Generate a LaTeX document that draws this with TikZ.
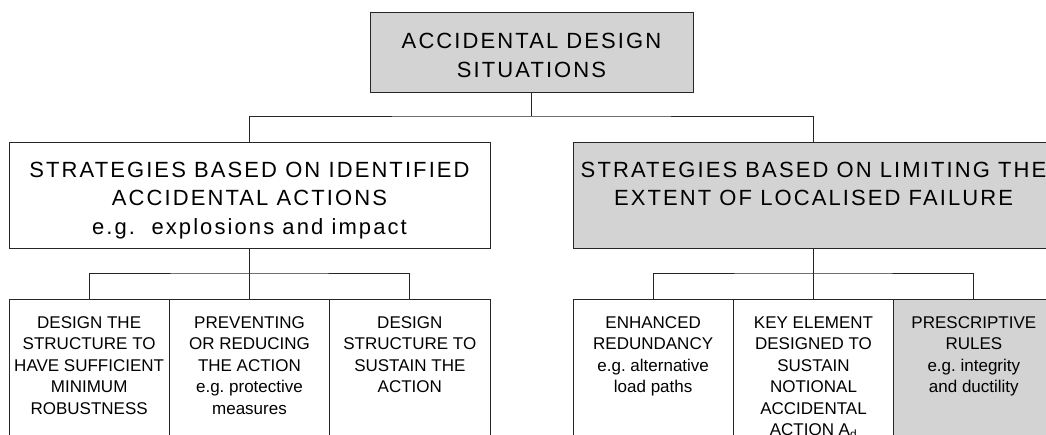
\documentclass[tikz,border=0pt]{standalone}
\usepackage{fontspec}
\setmainfont{Liberation Sans}
\newfontfamily\widefont{Liberation Sans}[LetterSpace=9.5]
\usetikzlibrary{positioning}
\definecolor{boxgray}{RGB}{211,211,211}
% centred lines hanging from the baseline of the first one
\newcommand{\boxlines}[1]{\begin{tabular}[t]{@{}c@{}}#1\end{tabular}}

\begin{document}
\begin{tikzpicture}[x=1pt,y=1pt,line width=1pt,
		sit/.style={draw=black!85,fill=boxgray,outer sep=0pt,inner sep=3pt,minimum width=323pt,
			text height=33pt,text depth=41pt,font=\widefont\fontsize{22}{29}\selectfont},
		strat/.style={draw=black!85,outer sep=0pt,inner sep=3pt,minimum width=481pt,
			text height=32pt,text depth=68pt,font=\widefont\fontsize{22}{28.5}\selectfont},
		meas/.style={draw=black!85,outer sep=0pt,inner sep=3pt,minimum width=160.33pt,
			text height=26pt,text depth=150pt,font=\fontsize{17}{21.5}\selectfont},
		bus/.style={draw=black!85}
		]
		\useasboundingbox (0,0) rectangle (1046,-434);
		\clip (0,0) rectangle (1046,-434);
		% top level
		\node (ads) [sit] at (531.5,-52) {\boxlines{ACCIDENTAL DESIGN\\SITUATIONS}};
		% the two strategies
		\node (idf) [strat] at (249.5,-195) {\boxlines{STRATEGIES BASED ON IDENTIFIED\\ACCIDENTAL ACTIONS\\e.g.\ \ explosions and impact}};
		\node (lim) [strat,fill=boxgray,right=83pt of idf] {\boxlines{STRATEGIES BASED ON LIMITING THE\\EXTENT OF LOCALISED FAILURE}};
		% measures under each strategy
		\node (prv) [meas,below=51pt of idf] {\boxlines{PREVENTING\\OR REDUCING\\THE ACTION\\e.g.\ protective\\measures}};
		\node (rob) [meas,left=0pt of prv] {\boxlines{DESIGN THE\\STRUCTURE TO\\HAVE SUFFICIENT\\MINIMUM\\ROBUSTNESS}};
		\node (sus) [meas,right=0pt of prv] {\boxlines{DESIGN\\STRUCTURE TO\\SUSTAIN THE\\ACTION}};
		\node (key) [meas,below=51pt of lim] {\boxlines{KEY ELEMENT\\DESIGNED TO\\SUSTAIN\\NOTIONAL\\ACCIDENTAL\\ACTION A\textsubscript{d}}};
		\node (red) [meas,left=0pt of key] {\boxlines{ENHANCED\\REDUNDANCY\\e.g.\ alternative\\load paths}};
		\node (prs) [meas,fill=boxgray,right=0pt of key] {\boxlines{PRESCRIPTIVE\\RULES\\e.g.\ integrity\\and ductility}};
		% connectors
		\draw [bus] (ads.south) -- ++(0,-24) coordinate (j0);
		\draw [bus] (idf.north) |- (j0) -| (lim.north);
		\draw [bus] (idf.south) -- ++(0,-25) coordinate (j1);
		\draw [bus] (rob.north) |- (j1) -| (sus.north);
		\draw [bus] (j1) -- (prv.north);
		\draw [bus] (lim.south) -- ++(0,-25) coordinate (j2);
		\draw [bus] (red.north) |- (j2) -| (prs.north);
		\draw [bus] (j2) -- (key.north);
	\end{tikzpicture}
\end{document}
